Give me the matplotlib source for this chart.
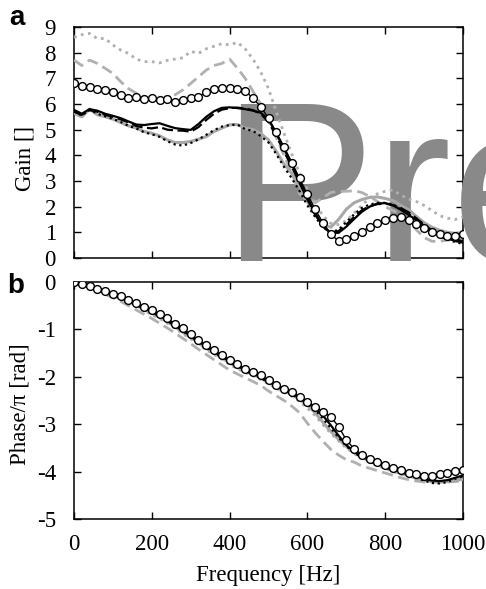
import numpy as np
import matplotlib
matplotlib.use('Agg')
import matplotlib.pyplot as plt
from matplotlib.transforms import Bbox, TransformedBbox

# frequency grid [Hz], 20 Hz step
freq = np.arange(0, 1001, 20)

# --- a: gain ---
gain_circ = [6.80, 6.71, 6.67, 6.60, 6.54, 6.48, 6.35, 6.22, 6.26, 6.19, 6.24, 6.16, 6.19, 6.09, 6.17, 6.22, 6.29,
             6.46, 6.58, 6.61, 6.62, 6.60, 6.52, 6.22, 5.90, 5.44, 4.90, 4.33, 3.72, 3.10, 2.48, 1.90, 1.37, 0.92,
             0.67, 0.74, 0.84, 1.02, 1.22, 1.36, 1.48, 1.56, 1.58, 1.50, 1.34, 1.17, 1.02, 0.93, 0.86, 0.85, 0.92]
gain_blk = [5.77, 5.62, 5.80, 5.74, 5.62, 5.54, 5.45, 5.32, 5.20, 5.18, 5.22, 5.25, 5.15, 5.06, 5.02, 4.99, 5.22,
            5.50, 5.72, 5.85, 5.87, 5.84, 5.80, 5.74, 5.66, 5.40, 4.85, 4.25, 3.65, 3.00, 2.35, 1.75, 1.25, 0.98,
            0.98, 1.22, 1.52, 1.80, 2.00, 2.12, 2.14, 2.05, 1.88, 1.68, 1.48, 1.26, 1.05, 0.90, 0.77, 0.66, 0.60]
gain_blk_dash = [5.70, 5.58, 5.76, 5.70, 5.58, 5.50, 5.40, 5.28, 5.14, 5.08, 5.05, 5.10, 5.00, 4.97, 4.96, 4.92,
                 5.10, 5.38, 5.62, 5.78, 5.84, 5.86, 5.82, 5.76, 5.62, 5.30, 4.75, 4.15, 3.55, 2.92, 2.28, 1.70,
                 1.22, 0.98, 1.05, 1.30, 1.60, 1.86, 2.02, 2.10, 2.12, 2.06, 1.95, 1.78, 1.55, 1.30, 1.08, 0.92,
                 0.80, 0.72, 0.66]
gain_blk_dot = [5.72, 5.55, 5.78, 5.62, 5.52, 5.42, 5.30, 5.15, 5.05, 4.90, 4.82, 4.72, 4.55, 4.42, 4.38, 4.48,
                4.62, 4.80, 4.98, 5.12, 5.18, 5.20, 5.02, 4.95, 4.75, 4.50, 4.05, 3.55, 3.10, 2.60, 2.05, 1.60,
                1.20, 1.00, 1.10, 1.40, 1.70, 1.95, 2.08, 2.15, 2.15, 2.08, 1.92, 1.72, 1.48, 1.25, 1.02, 0.85,
                0.72, 0.62, 0.55]
gain_gry = [5.64, 5.50, 5.80, 5.58, 5.51, 5.41, 5.28, 5.15, 5.06, 4.93, 4.86, 4.76, 4.60, 4.50, 4.50, 4.54, 4.63,
            4.73, 4.93, 5.06, 5.19, 5.20, 5.06, 5.00, 4.85, 4.60, 4.15, 3.65, 3.30, 2.80, 2.20, 1.70, 1.30, 1.20,
            1.50, 1.90, 2.15, 2.28, 2.36, 2.38, 2.32, 2.24, 2.05, 1.88, 1.62, 1.38, 1.20, 1.08, 1.00, 0.96, 0.94]
gain_gry_dash = [7.71, 7.50, 7.71, 7.58, 7.39, 7.19, 6.87, 6.60, 6.42, 6.29, 6.16, 6.16, 6.23, 6.36, 6.55, 6.80,
                 7.06, 7.32, 7.50, 7.58, 7.75, 7.40, 7.00, 6.50, 6.00, 5.40, 4.70, 4.00, 3.30, 2.50, 2.25, 2.15,
                 2.35, 2.55, 2.60, 2.60, 2.62, 2.55, 2.40, 2.20, 2.00, 1.85, 1.70, 1.45, 1.10, 0.80, 0.65, 0.65,
                 0.70, 0.75, 0.80]
gain_gry_dot = [8.60, 8.70, 8.75, 8.55, 8.55, 8.30, 8.10, 7.97, 7.75, 7.65, 7.65, 7.60, 7.70, 7.75, 7.80, 8.05,
                7.97, 8.15, 8.25, 8.35, 8.30, 8.40, 8.15, 7.75, 7.25, 6.60, 5.70, 4.85, 4.05, 3.30, 2.65, 2.10,
                1.65, 1.35, 1.30, 1.45, 1.75, 2.05, 2.35, 2.50, 2.60, 2.65, 2.45, 2.30, 2.20, 2.05, 1.85, 1.65,
                1.55, 1.50, 1.60]

# --- b: phase / pi ---
ph_circ = [0.00, -0.05, -0.09, -0.14, -0.20, -0.25, -0.30, -0.37, -0.44, -0.53, -0.60, -0.67, -0.77, -0.88, -0.98,
           -1.10, -1.23, -1.33, -1.44, -1.54, -1.65, -1.74, -1.83, -1.90, -1.97, -2.07, -2.17, -2.25, -2.32, -2.42,
           -2.53, -2.63, -2.74, -2.84, -3.05, -3.33, -3.52, -3.64, -3.73, -3.80, -3.87, -3.93, -3.97, -4.03, -4.06,
           -4.10, -4.10, -4.06, -4.03, -3.99, -3.96]
ph_blk = [0.00, -0.05, -0.10, -0.15, -0.21, -0.27, -0.32, -0.39, -0.47, -0.55, -0.63, -0.71, -0.81, -0.92, -1.03,
          -1.14, -1.26, -1.36, -1.47, -1.57, -1.68, -1.77, -1.86, -1.93, -2.01, -2.10, -2.19, -2.27, -2.35, -2.45,
          -2.56, -2.66, -2.82, -3.02, -3.24, -3.44, -3.58, -3.68, -3.76, -3.83, -3.89, -3.95, -4.00, -4.05, -4.10,
          -4.15, -4.19, -4.20, -4.18, -4.13, -4.08]
ph_blk_dot = [0.00, -0.05, -0.10, -0.15, -0.22, -0.28, -0.33, -0.40, -0.48, -0.56, -0.64, -0.72, -0.82, -0.93, -1.04,
              -1.15, -1.27, -1.38, -1.48, -1.59, -1.69, -1.79, -1.87, -1.95, -2.03, -2.11, -2.20, -2.28, -2.37, -2.47,
              -2.58, -2.70, -2.88, -3.08, -3.28, -3.46, -3.60, -3.70, -3.78, -3.85, -3.91, -3.97, -4.02, -4.07,
              -4.13, -4.19, -4.24, -4.25, -4.22, -4.15, -4.10]
ph_gry = [0.00, -0.05, -0.10, -0.16, -0.22, -0.28, -0.34, -0.41, -0.49, -0.58, -0.66, -0.74, -0.84, -0.95, -1.06,
          -1.17, -1.29, -1.40, -1.50, -1.60, -1.71, -1.80, -1.88, -1.95, -2.03, -2.12, -2.21, -2.29, -2.38, -2.48,
          -2.60, -2.76, -2.96, -3.15, -3.32, -3.47, -3.60, -3.70, -3.78, -3.85, -3.92, -3.98, -4.04, -4.09, -4.14,
          -4.18, -4.21, -4.22, -4.21, -4.19, -4.16]
ph_gry_dot = [0.00, -0.05, -0.11, -0.17, -0.23, -0.30, -0.36, -0.43, -0.51, -0.60, -0.69, -0.77, -0.87, -0.98, -1.09,
              -1.20, -1.32, -1.43, -1.53, -1.63, -1.74, -1.83, -1.91, -1.98, -2.06, -2.15, -2.24, -2.32, -2.41, -2.52,
              -2.66, -2.82, -3.01, -3.19, -3.35, -3.50, -3.62, -3.72, -3.80, -3.87, -3.94, -4.00, -4.06, -4.11,
              -4.15, -4.18, -4.20, -4.21, -4.20, -4.18, -4.15]
ph_gry_dash = [0.00, -0.06, -0.12, -0.18, -0.26, -0.33, -0.41, -0.50, -0.59, -0.68, -0.77, -0.87, -0.97, -1.08,
               -1.19, -1.30, -1.42, -1.53, -1.64, -1.75, -1.86, -1.94, -2.02, -2.10, -2.18, -2.30, -2.40, -2.50,
               -2.62, -2.76, -2.98, -3.18, -3.36, -3.53, -3.65, -3.75, -3.80, -3.88, -3.93, -3.98, -4.03, -4.08,
               -4.13, -4.17, -4.20, -4.22, -4.22, -4.22, -4.22, -4.21, -4.20]

plt.rcParams['font.family'] = ['Liberation Serif', 'DejaVu Serif']
plt.rcParams['axes.unicode_minus'] = False

W, H = 486, 589
fig = plt.figure(figsize=(W / 100, H / 100), dpi=100)
ax1 = fig.add_axes([74 / W, 1 - 258 / H, 389 / W, 231 / H])
ax2 = fig.add_axes([74 / W, 1 - 519 / H, 389 / W, 237 / H])

gry = '#b0b0b0'
dot = (0, (1, 1.6))

def draw(ax, gdot, gdash, g, bdot, bdash, b, circ):
    ax.plot(freq, gdot, color=gry, ls=dot, lw=2.0, zorder=3)
    ax.plot(freq, gdash, color=gry, ls=(0, (4, 2)), lw=2.0, zorder=3)
    ax.plot(freq, g, color='#a8a8a8', lw=2.2, zorder=3)
    ax.plot(freq, bdot, color='k', ls=dot, lw=1.6, zorder=4)
    if bdash is not None:
        ax.plot(freq, bdash, color='k', ls=(0, (5, 2)), lw=1.6, zorder=4)
    ax.plot(freq, b, color='k', lw=1.6, zorder=4)
    ax.plot(freq, circ, color='k', lw=1.0, marker='o', ms=5.6, mfc='white', mec='k', mew=1.0, zorder=5)

draw(ax1, gain_gry_dot, gain_gry_dash, gain_gry, gain_blk_dot, gain_blk_dash, gain_blk, gain_circ)
draw(ax2, ph_gry_dot, ph_gry_dash, ph_gry, ph_blk_dot, None, ph_blk, ph_circ)

for ax in (ax1, ax2):
    ax.set_xlim(0, 1000)
    ax.set_xticks(np.arange(0, 1001, 200))
    ax.tick_params(direction='in', top=True, right=True, length=5, width=1, labelsize=16.5)
    ax.tick_params(axis='x', pad=11)
    ax.tick_params(axis='y', pad=13)
    for s in ax.spines.values():
        s.set_linewidth(1.1)

ax1.set_ylim(0, 9)
ax1.set_yticks(range(0, 10))
ax1.tick_params(labelbottom=False)
ax2.set_ylim(-5, 0)
ax2.set_yticks(range(-5, 1))

fig.text(25 / W, 1 - 158 / H, 'Gain []', rotation=90, ha='center', va='center', fontsize=16.5)
fig.text(20 / W, 1 - 404 / H, 'Phase/π [rad]', rotation=90, ha='center', va='center', fontsize=16.5)
fig.text(268 / W, 1 - 575 / H, 'Frequency [Hz]', ha='center', va='center', fontsize=16.5)

fig.text(9 / W, 1 - 25 / H, 'a', fontsize=20, fontweight='bold', family='Liberation Sans')
fig.text(7 / W, 1 - 293 / H, 'b', fontsize=20, fontweight='bold', family='Liberation Sans')

# watermark over the upper panel, cut just below it
clip = TransformedBbox(Bbox([[0, 1 - 261 / H], [1, 1]]), fig.transFigure)
wm = ax1.text(221 / W, 1 - 263 / H, 'Pre', transform=fig.transFigure, fontsize=166, family='Liberation Sans',
              color='#898989', zorder=2.7, clip_on=True)
wm.set_clip_box(clip)

fig.savefig('out.png', dpi=100)
